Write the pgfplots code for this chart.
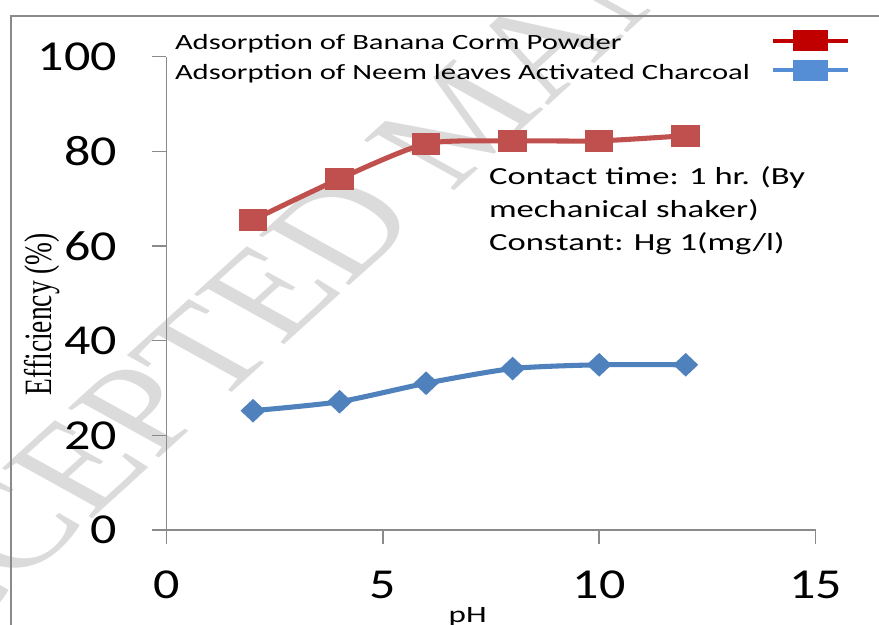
\documentclass[border=0pt]{standalone}
\usepackage{pgfplots}
\pgfplotsset{compat=1.18}
\usepackage{fontspec}
\setmainfont{Carlito}[FakeStretch=1.41]
\newfontfamily\tickfont{Carlito}[FakeStretch=1.22]
\newfontfamily\serifY{Liberation Serif}[FakeStretch=0.71]
\newfontfamily\serifW{Liberation Serif}
\definecolor{redline}{HTML}{C0504D}
\definecolor{blueline}{HTML}{4F81BD}
\definecolor{legred}{HTML}{C00000}
\definecolor{legblue}{HTML}{558ED5}
\definecolor{axgray}{HTML}{8A8A8A}
\begin{document}
\begin{tikzpicture}
\useasboundingbox (0,0) rectangle (659.25pt,468.75pt);
\node[xscale=1.41, rotate=52, text=black!14, font=\serifW\fontsize{93}{93}\selectfont, anchor=center] at (346.5pt,380.25pt) {ACCEPTED MANUSCRIPT};
\draw[line width=1.1pt, color=axgray] (8.25pt,0) -- (8.25pt,456.75pt) -- (659.25pt,456.75pt);
\begin{axis}[
  at={(124.875pt,71.25pt)}, anchor=south west,
  scale only axis, width=486.75pt, height=355.05pt,
  xmin=0, xmax=15, ymin=0, ymax=100,
  axis x line*=bottom, axis y line*=left,
  axis line style={draw=axgray, line width=1.1pt, -},
  xtick={0,5,10,15}, ytick={0,20,40,60,80,100},
  tick align=outside, major tick length=10.5pt,
  tick style={draw=axgray, line width=1.1pt},
  ticklabel style={font=\tickfont\fontsize{32}{34}\selectfont},
  xticklabel style={yshift=-16.5pt},
  yticklabel style={xshift=-23pt},
  /pgf/number format/assume math mode=true,
  xlabel={pH},
  xlabel style={at={(axis description cs:0.464,-0.196)}, anchor=base, font=\fontsize{17.6}{20}\selectfont, inner sep=0pt},
  ylabel={Efficiency (\%)},
  ylabel style={at={(axis description cs:-0.191,0.456)}, anchor=center, font=\serifY\fontsize{29}{31}\selectfont, inner sep=0pt},
  legend style={at={(axis description cs:0.0131,1.052)}, anchor=north west, draw=none, fill=none, inner sep=0pt, outer sep=0pt, row sep=5pt, column sep=15.75pt, font=\fontsize{16.3}{19}\selectfont, nodes={inner sep=0pt, text height=12pt, text depth=4pt}},
  legend cell align=left, legend plot pos=right,
  legend image code/.code={\draw[#1, mark repeat=2, mark phase=2] plot coordinates {(0pt,3pt) (28pt,3pt) (56pt,3pt)};},
]
\addplot[color=redline, line width=3.8pt, smooth, tension=0.4, mark=square*, mark size=6.25pt, mark options={xscale=1.41, solid}, forget plot]
  coordinates {(2,65.5) (4,74.2) (6,81.6) (8,82.2) (10,82.2) (12,83.3)};
\addplot[color=blueline, line width=3.8pt, smooth, tension=0.4, mark=diamond*, mark size=6.26pt, mark options={xscale=1.41, solid}, forget plot]
  coordinates {(2,25.2) (4,27.1) (6,31.0) (8,34.1) (10,34.9) (12,34.9)};
\addlegendimage{color=legred, line width=3pt, mark=square*, mark size=6.4pt, mark options={xscale=1.82, solid}}
\addlegendentry{Adsorption of Banana Corm Powder}
\addlegendimage{color=legblue, line width=3pt, mark=square*, mark size=6.4pt, mark options={xscale=1.82, solid}}
\addlegendentry{Adsorption of Neem leaves Activated Charcoal}
\node[anchor=north west, align=left, inner sep=0pt, font=\fontsize{18.4}{24.75}\selectfont] at (axis cs:7.45,76.9) {Contact time: 1 hr. (By\\mechanical shaker)\\Constant: Hg 1(mg/l)};
\end{axis}
\end{tikzpicture}
\end{document}
